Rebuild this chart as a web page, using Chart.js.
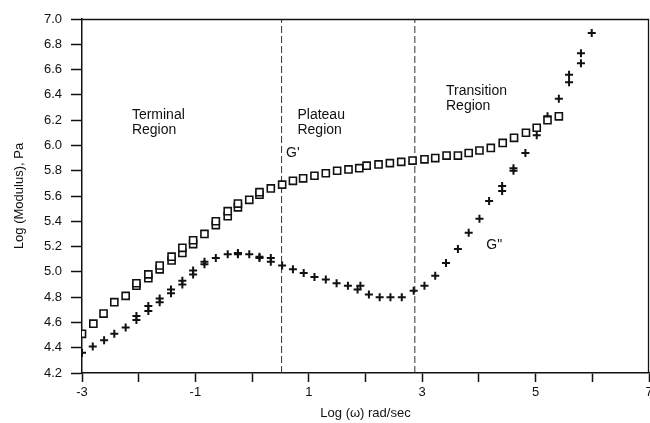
<!DOCTYPE html>
<html>
<head>
<meta charset="utf-8">
<script src="https://cdn.jsdelivr.net/npm/chart.js@4/dist/chart.umd.min.js"></script>
<style>
  html, body { margin: 0; padding: 0; background: #fff; overflow: hidden; }
  #wrap { width: 650px; height: 423px; position: relative; }
  canvas { display: block; }
</style>
</head>
<body>
<div id="wrap"><canvas id="modulusChart"></canvas></div>
<script>
// G' (storage modulus), log values
var storageX = [-3.00, -2.80, -2.62, -2.43, -2.23, -2.04, -2.04, -1.83, -1.83, -1.63, -1.63, -1.42, -1.42,
  -1.23, -1.23, -1.04, -1.04, -0.84, -0.64, -0.64, -0.43, -0.43, -0.25, -0.25, -0.05, 0.13, 0.13, 0.33,
  0.53, 0.72, 0.90, 1.10, 1.30, 1.50, 1.70, 1.89, 2.02, 2.23, 2.43, 2.63, 2.83, 3.04, 3.23, 3.43, 3.63,
  3.82, 4.01, 4.21, 4.42, 4.62, 4.83, 5.02, 5.21, 5.41];
var storageY = [4.51, 4.59, 4.67, 4.76, 4.81, 4.89, 4.91, 4.95, 4.98, 5.02, 5.05, 5.09, 5.12,
  5.15, 5.19, 5.22, 5.25, 5.30, 5.37, 5.40, 5.44, 5.48, 5.51, 5.54, 5.57, 5.61, 5.63, 5.66,
  5.69, 5.72, 5.74, 5.76, 5.78, 5.80, 5.81, 5.82, 5.84, 5.85, 5.86, 5.87, 5.88, 5.89, 5.90, 5.92, 5.92,
  5.94, 5.96, 5.98, 6.02, 6.06, 6.10, 6.14, 6.20, 6.23];

// G" (loss modulus)
var lossX = [-3.00, -2.81, -2.61, -2.43, -2.23, -2.04, -2.04, -1.83, -1.83, -1.63, -1.63, -1.43, -1.43,
  -1.23, -1.23, -1.04, -1.04, -0.84, -0.84, -0.64, -0.43, -0.25, -0.25, -0.05, 0.13, 0.13, 0.33, 0.33,
  0.53, 0.72, 0.91, 1.10, 1.30, 1.49, 1.69, 1.86, 1.91, 2.06, 2.25, 2.44, 2.64, 2.85, 3.04, 3.23, 3.42,
  3.63, 3.82, 4.01, 4.18, 4.41, 4.41, 4.61, 4.61, 4.82, 5.02, 5.21, 5.41, 5.59, 5.59, 5.80, 5.80, 5.99];
var lossY = [4.36, 4.41, 4.46, 4.51, 4.56, 4.62, 4.65, 4.69, 4.73, 4.76, 4.79, 4.83, 4.86,
  4.90, 4.93, 4.98, 5.01, 5.06, 5.08, 5.11, 5.14, 5.14, 5.15, 5.14, 5.11, 5.12, 5.08, 5.11,
  5.05, 5.02, 4.99, 4.96, 4.94, 4.91, 4.89, 4.86, 4.89, 4.82, 4.80, 4.80, 4.80, 4.85, 4.89, 4.97, 5.07,
  5.18, 5.31, 5.42, 5.56, 5.64, 5.68, 5.80, 5.82, 5.94, 6.08, 6.23, 6.37, 6.50, 6.56, 6.65, 6.73, 6.89];

// region boundaries (log omega) and axis ranges
var regionBounds = [0.52, 2.87];
var xRange = [-3, 7];
var yRange = [4.2, 7.0];
var xLabelled = [-3, -1, 1, 3, 5, 7];

function toPoints(xs, ys) {
  return xs.map(function(x, i) { return { x: x, y: ys[i] }; });
}

var FONT = '"Liberation Sans", Arial, Helvetica, sans-serif';
var INK = '#111';

var datasets = [{
  label: "G'",
  data: toPoints(storageX, storageY),
  pointStyle: 'rect',
  pointRadius: 5,
  pointBorderWidth: 1.6,
  pointBorderColor: INK,
  pointBackgroundColor: '#fff',
  showLine: false
}, {
  label: 'G"',
  data: toPoints(lossX, lossY),
  pointStyle: 'cross',
  pointRadius: 4,
  pointBorderWidth: 2,
  pointBorderColor: INK,
  showLine: false
}];

regionBounds.forEach(function(b) {
  datasets.push({
    type: 'line',
    data: [{ x: b, y: yRange[0] }, { x: b, y: yRange[1] }],
    borderColor: '#333',
    borderWidth: 1,
    borderDash: [7, 3],
    pointRadius: 0,
    fill: false
  });
});

// box around the plot + text notes
var notesPlugin = {
  id: 'notes',
  afterDraw: function(chart) {
    var ctx = chart.ctx, a = chart.chartArea;
    var xs = chart.scales.x, ys = chart.scales.y;
    ctx.save();
    ctx.strokeStyle = INK;
    ctx.lineWidth = 1.3;
    ctx.beginPath();
    ctx.moveTo(a.left, a.top + 0.5);
    ctx.lineTo(a.right - 0.5, a.top + 0.5);
    ctx.lineTo(a.right - 0.5, a.bottom);
    ctx.stroke();

    ctx.fillStyle = INK;
    ctx.font = '14px ' + FONT;
    ctx.textBaseline = 'middle';
    ctx.textAlign = 'left';
    function note(lines, x, y) {
      var px = xs.getPixelForValue(x), py = ys.getPixelForValue(y);
      lines.forEach(function(t, i) { ctx.fillText(t, px, py + i * 15); });
    }
    note(['Terminal', 'Region'], -2.12, 6.24);
    note(['Plateau', 'Region'], 0.80, 6.24);
    note(['Transition', 'Region'], 3.42, 6.43);
    note(["G'"], 0.60, 5.94);
    note(['G"'], 4.13, 5.21);
    ctx.restore();
  }
};

var ctx = document.getElementById('modulusChart').getContext('2d');
var modulusChart = new Chart(ctx, {
  type: 'scatter',
  data: { datasets: datasets },
  options: {
    responsive: true,
    maintainAspectRatio: false,
    animation: false,
    layout: { autoPadding: false, padding: { top: 19, right: 1, left: 0, bottom: 0 } },
    plugins: {
      legend: { display: false },
      tooltip: { enabled: false }
    },
    scales: {
      x: {
        type: 'linear',
        min: xRange[0],
        max: xRange[1],
        afterFit: function(s) { s.height = 50; s.paddingLeft = 0; s.paddingRight = 0; },
        ticks: {
          stepSize: 1,
          autoSkip: false,
          maxRotation: 0,
          padding: 3,
          color: INK,
          font: { family: FONT, size: 13 },
          callback: function(v) { return xLabelled.indexOf(v) >= 0 ? String(v) : ''; }
        },
        grid: { drawOnChartArea: false, tickLength: 9, color: INK, tickWidth: 1.5 },
        border: { color: INK, width: 1.5 },
        title: {
          display: true,
          text: 'Log (ω) rad/sec',
          color: INK,
          font: { family: FONT, size: 13 },
          padding: { top: 0, bottom: 2 }
        }
      },
      y: {
        min: yRange[0],
        max: yRange[1],
        afterFit: function(s) { s.width = 82; },
        ticks: {
          stepSize: 0.2,
          padding: 9,
          color: INK,
          font: { family: FONT, size: 13 },
          callback: function(v) { return Number(v).toFixed(1); }
        },
        grid: { drawOnChartArea: false, tickLength: 11, color: INK, tickWidth: 1.5 },
        border: { color: INK, width: 1.5 },
        title: {
          display: true,
          text: 'Log (Modulus), Pa',
          color: INK,
          font: { family: FONT, size: 13 },
          padding: { top: 12, bottom: 0 }
        }
      }
    }
  },
  plugins: [notesPlugin]
});
</script>
</body>
</html>
